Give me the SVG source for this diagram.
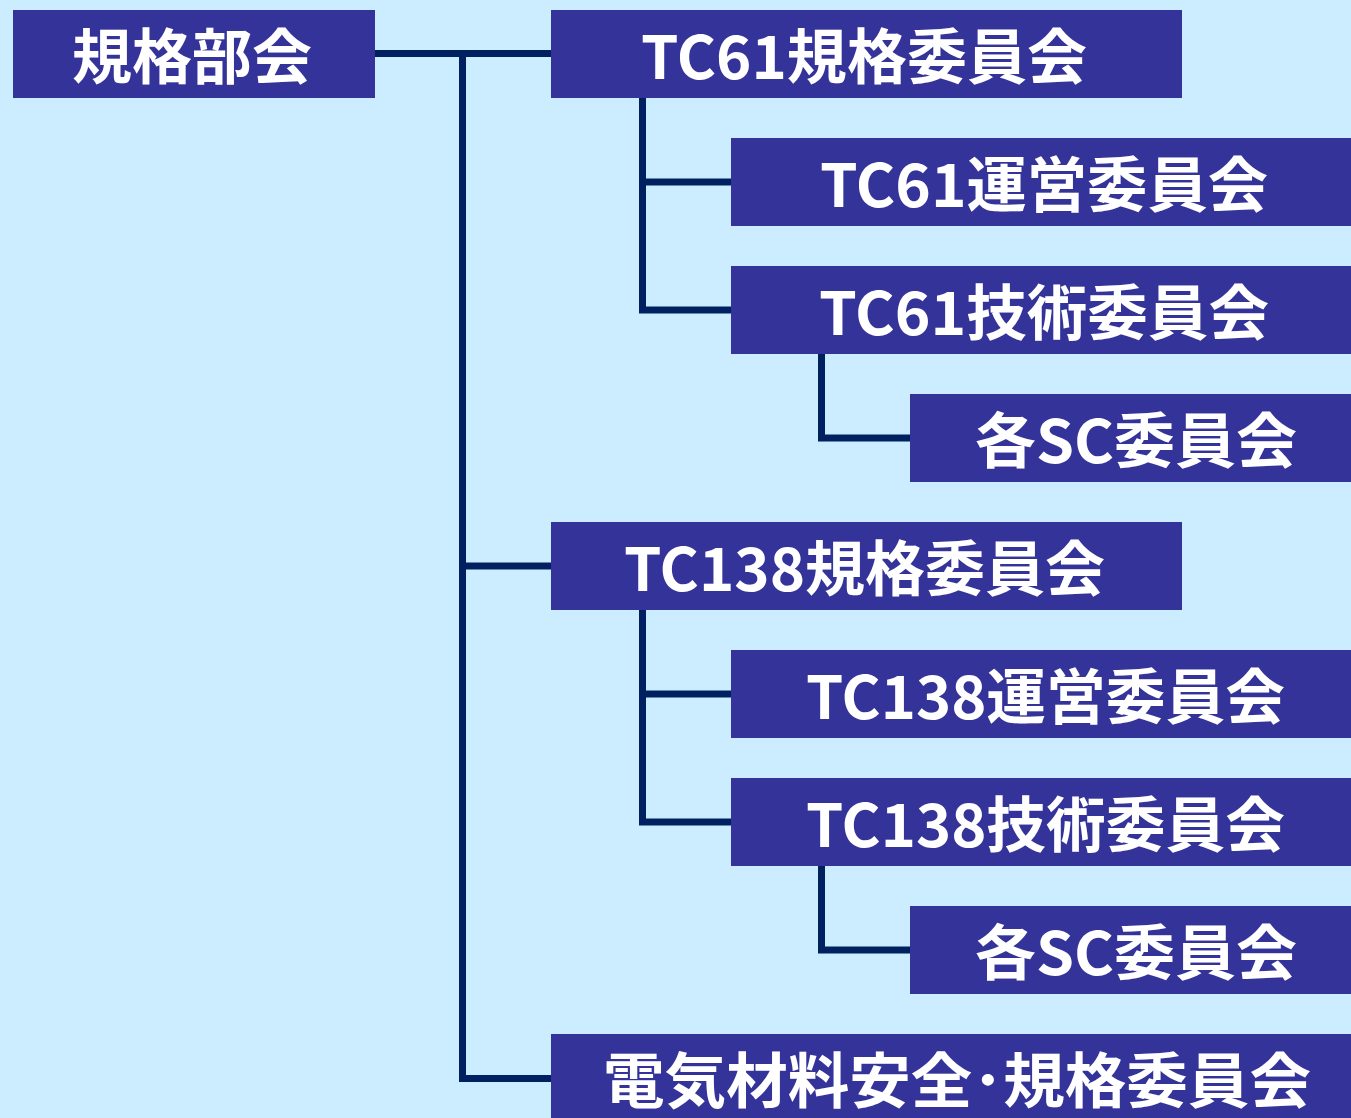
<svg xmlns="http://www.w3.org/2000/svg" width="1351" height="1118" viewBox="0 0 1351 1118">
<style>
.box{fill:#333399}
.lbl{fill:#ffffff;font-family:"Noto Sans CJK JP","Noto Sans",sans-serif;font-weight:700;font-size:60px}
.ln{fill:none;stroke:#002060;stroke-width:7;stroke-linejoin:miter}
</style>
<rect x="0" y="0" width="1351" height="1118" fill="#CCECFF"/>
<g id="connectors">
<path class="ln" d="M375 53.5 H554"/>
<path class="ln" d="M462.5 53.5 V1078.5 H552"/>
<path class="ln" d="M462.5 566 H552"/>
<path class="ln" d="M642.5 96 V310 H732"/>
<path class="ln" d="M642.5 182 H732"/>
<path class="ln" d="M821.5 352 V438 H911"/>
<path class="ln" d="M642.5 608 V822 H732"/>
<path class="ln" d="M642.5 694 H732"/>
<path class="ln" d="M821.5 864 V950 H911"/>
</g>
<g id="n-kikakubukai"><rect class="box" x="13" y="10" width="362" height="88"/><text class="lbl" x="72" y="79" textLength="240" lengthAdjust="spacingAndGlyphs">規格部会</text></g>
<g id="n-tc61-kikaku"><rect class="box" x="551" y="10" width="631" height="88"/><text class="lbl" x="641" y="79" textLength="446" lengthAdjust="spacingAndGlyphs">TC61規格委員会</text></g>
<g id="n-tc61-unei"><rect class="box" x="731" y="138" width="620" height="88"/><text class="lbl" x="820" y="207" textLength="448" lengthAdjust="spacingAndGlyphs">TC61運営委員会</text></g>
<g id="n-tc61-gijutsu"><rect class="box" x="731" y="266" width="620" height="88"/><text class="lbl" x="819" y="335" textLength="450" lengthAdjust="spacingAndGlyphs">TC61技術委員会</text></g>
<g id="n-tc61-sc"><rect class="box" x="910" y="394" width="441" height="88"/><text class="lbl" x="975" y="463" textLength="322" lengthAdjust="spacingAndGlyphs">各SC委員会</text></g>
<g id="n-tc138-kikaku"><rect class="box" x="551" y="522" width="631" height="88"/><text class="lbl" x="624" y="591" textLength="481" lengthAdjust="spacingAndGlyphs">TC138規格委員会</text></g>
<g id="n-tc138-unei"><rect class="box" x="731" y="650" width="620" height="88"/><text class="lbl" x="806" y="719" textLength="479" lengthAdjust="spacingAndGlyphs">TC138運営委員会</text></g>
<g id="n-tc138-gijutsu"><rect class="box" x="731" y="778" width="620" height="88"/><text class="lbl" x="806" y="847" textLength="479" lengthAdjust="spacingAndGlyphs">TC138技術委員会</text></g>
<g id="n-tc138-sc"><rect class="box" x="910" y="906" width="441" height="88"/><text class="lbl" x="975" y="975" textLength="322" lengthAdjust="spacingAndGlyphs">各SC委員会</text></g>
<g id="n-denki"><rect class="box" x="551" y="1034" width="800" height="84"/><text class="lbl" x="603" y="1103" textLength="708" lengthAdjust="spacingAndGlyphs">電気材料安全･規格委員会</text></g>
</svg>
